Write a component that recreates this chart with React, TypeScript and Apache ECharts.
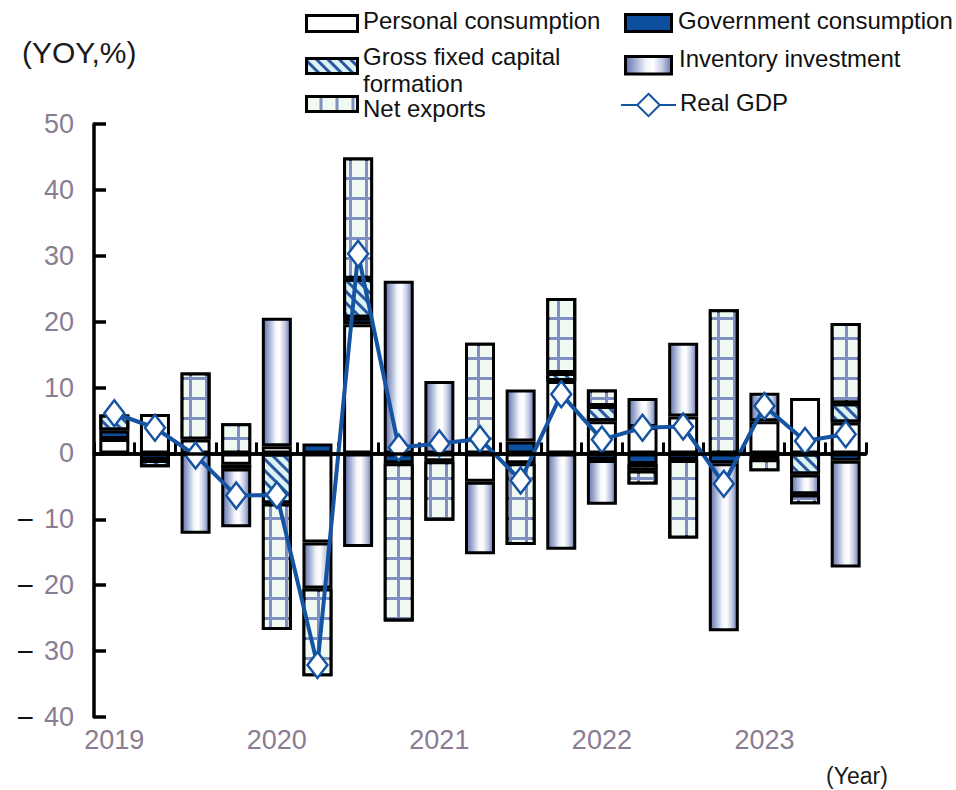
import { useEffect, useRef } from 'react';
import * as echarts from 'echarts';

// Quarterly contributions to real GDP growth (percentage points)
const quarters = [
  '2019 Q1', '2019 Q2', '2019 Q3', '2019 Q4',
  '2020 Q1', '2020 Q2', '2020 Q3', '2020 Q4',
  '2021 Q1', '2021 Q2', '2021 Q3', '2021 Q4',
  '2022 Q1', '2022 Q2', '2022 Q3', '2022 Q4',
  '2023 Q1', '2023 Q2', '2023 Q3',
];

const personalConsumption = [2.2, 6.0, 2.1, -1.7, 1.1, -13.5, 19.6, 0, -1.2, -4.3, -1.5, 11.0, 4.9, 4.0, 5.6, 0, 4.9, 8.4, 4.7];
const governmentConsumption = [1.3, -1.0, 0, 0, 0, 1.5, 1.0, -1.5, 0, 0, 1.8, 0, -1.0, -1.6, -1.0, -1.5, -0.9, 0, -1.1];
const grossFixedCapital = [2.4, -1.1, 0, -0.6, -7.6, 0, 5.9, 0, 0, 0, 0, 1.2, 2.3, -1.0, 0, 0, 0, -3.2, 2.9];
const inventoryInvestment = [0, 0, -12.2, -8.9, 19.5, -7.0, -14.2, 26.2, 11.0, -11.0, 7.9, -14.6, -6.8, 4.4, 11.2, -25.5, 4.3, -3.0, -16.2];
const netExports = [0, 0, 10.2, 4.6, -19.2, -13.3, 18.4, -24.0, -9.0, 16.8, -12.4, 11.4, 2.5, -2.1, -11.9, 21.9, -1.8, -1.5, 12.2];
const realGdp = [6.1, 3.9, -0.3, -6.4, -6.3, -32.1, 30.3, 0.9, 1.5, 2.2, -4.1, 9.0, 2.1, 3.9, 4.1, -4.6, 7.2, 1.9, 2.9];

const yMin = -40;
const yMax = 50;
const yStep = 10;

const SANS = '"Liberation Sans", Arial, sans-serif';
const TICK_GRAY = '#8a7d92';
const GDP_BLUE = '#1553a3';

// empty segments are skipped so they leave no border stub
const seg = (arr: number[]) => arr.map((v) => (v === 0 ? '-' : v));

const barBase = {
  type: 'bar' as const,
  stack: 'contrib',
  barWidth: 30,
  itemStyle: { borderColor: '#000', borderWidth: 3 },
};

// legend swatches only; their captions are placed as separate texts
const swatch = (name: string, left: number, top: number, w: number, h: number, boxed = true) => ({
  data: [name],
  left,
  top,
  itemWidth: w,
  itemHeight: h,
  orient: 'horizontal' as const,
  selectedMode: false,
  padding: 0,
  itemGap: 0,
  formatter: () => '',
  ...(boxed ? { icon: 'rect', itemStyle: { borderColor: '#000', borderWidth: 3 } } : {}),
});

const caption = (text: string, x: number, y: number, extra: any = {}) => ({
  type: 'text',
  x,
  y,
  silent: true,
  style: {
    text,
    fontSize: 24,
    fontFamily: SANS,
    fill: '#111',
    align: 'left',
    verticalAlign: 'middle',
    ...extra,
  },
});

export default function App() {
  const ref = useRef<HTMLDivElement>(null);

  useEffect(() => {
    if (!ref.current) return;
    const chart = echarts.init(ref.current, undefined, { renderer: 'svg' });

    const option: any = {
      animation: false,
      backgroundColor: '#fff',
      grid: { left: 94, right: 90, top: 124, bottom: 73, outerBoundsMode: 'none' },
      legend: [
        swatch('Personal consumption', 305, 14, 51, 16),
        swatch('Gross fixed capital formation', 305, 57, 51, 15),
        swatch('Net exports', 305, 95, 51, 15),
        swatch('Government consumption', 624, 13, 46, 17),
        swatch('Inventory investment', 624, 55, 46, 17.5),
        swatch('Real GDP', 620, 91, 55, 28, false),
      ],
      xAxis: {
        type: 'category',
        data: quarters,
        boundaryGap: true,
        axisLine: { lineStyle: { color: '#000', width: 3.5 } },
        axisTick: { show: true, inside: true, length: 11, interval: 0, lineStyle: { color: '#000', width: 3 } },
        axisLabel: {
          interval: 3,
          margin: 9,
          fontSize: 27,
          fontFamily: SANS,
          color: TICK_GRAY,
          formatter: (v: string) => v.slice(0, 4),
        },
        splitLine: { show: false },
      },
      yAxis: {
        type: 'value',
        min: yMin,
        max: yMax,
        interval: yStep,
        axisLine: { show: true, lineStyle: { color: '#000', width: 3.5 } },
        axisTick: { show: true, inside: true, length: 12, lineStyle: { color: '#000', width: 3.5 } },
        splitLine: { show: false },
        axisLabel: {
          margin: 20,
          fontSize: 27,
          fontFamily: SANS,
          color: TICK_GRAY,
          formatter: (v: number) => (v < 0 ? `{m|−}{d|${-v}}` : `{d|${v}}`),
          rich: {
            m: { color: '#111', fontSize: 30, fontFamily: SANS, padding: [0, 10, 0, 0] },
            d: { color: TICK_GRAY, fontSize: 27, fontFamily: SANS },
          },
        },
      },
      graphic: [
        caption('(YOY,%)', 22, 52, { fontSize: 30, fill: '#1a1a1a' }),
        caption('(Year)', 826, 776, { fontSize: 23, fill: '#1a1a1a' }),
        caption('Personal consumption', 363, 20.5),
        caption('Gross fixed capital\nformation', 363, 70, { lineHeight: 27.5 }),
        caption('Net exports', 363, 108.5),
        caption('Government consumption', 678, 20.5),
        caption('Inventory investment', 679, 58.5),
        caption('Real GDP', 680, 102),
      ],
      series: [
        {
          ...barBase,
          name: 'Personal consumption',
          data: seg(personalConsumption),
          itemStyle: { ...barBase.itemStyle, color: '#ffffff' },
          markLine: {
            silent: true,
            symbol: ['none', 'none'],
            label: { show: false },
            lineStyle: { color: '#000', width: 3.5, type: 'solid' },
            data: [{ yAxis: 0 }],
          },
        },
        {
          ...barBase,
          name: 'Government consumption',
          data: seg(governmentConsumption),
          itemStyle: { ...barBase.itemStyle, color: '#0c4f9f' },
        },
        {
          ...barBase,
          name: 'Gross fixed capital formation',
          data: seg(grossFixedCapital),
          itemStyle: {
            ...barBase.itemStyle,
            color: '#dcf3f6',
            decal: {
              symbol: 'rect',
              symbolSize: 1,
              symbolKeepAspect: false,
              color: '#2a579f',
              dashArrayX: [1, 0],
              dashArrayY: [3, 5],
              rotation: Math.PI / 4,
            },
          },
        },
        {
          ...barBase,
          name: 'Inventory investment',
          data: seg(inventoryInvestment),
          itemStyle: {
            ...barBase.itemStyle,
            color: {
              type: 'linear', x: 0, y: 0, x2: 1, y2: 0,
              colorStops: [
                { offset: 0, color: '#6272ad' },
                { offset: 0.22, color: '#a5b0d3' },
                { offset: 0.45, color: '#f4f6fb' },
                { offset: 0.6, color: '#ffffff' },
                { offset: 0.8, color: '#c3cae2' },
                { offset: 1, color: '#6676b0' },
              ],
            },
          },
        },
        {
          ...barBase,
          name: 'Net exports',
          data: seg(netExports),
          itemStyle: {
            ...barBase.itemStyle,
            color: '#8190c2',
            decal: {
              symbol: 'rect',
              symbolSize: 1,
              symbolKeepAspect: false,
              color: '#f0faf3',
              dashArrayX: [13, 3],
              dashArrayY: [17, 3],
              rotation: 0,
            },
          },
        },
        {
          type: 'line',
          name: 'Real GDP',
          data: realGdp,
          z: 4,
          symbol: 'diamond',
          symbolSize: [20, 26],
          lineStyle: { color: GDP_BLUE, width: 4 },
          itemStyle: { color: '#ffffff', borderColor: GDP_BLUE, borderWidth: 2.5 },
        },
      ],
    };

    chart.setOption(option);
    return () => chart.dispose();
  }, []);

  return (
    <div
      ref={ref}
      style={{ position: 'fixed', left: 0, top: 0, width: 956, height: 790, background: '#fff' }}
    />
  );
}
